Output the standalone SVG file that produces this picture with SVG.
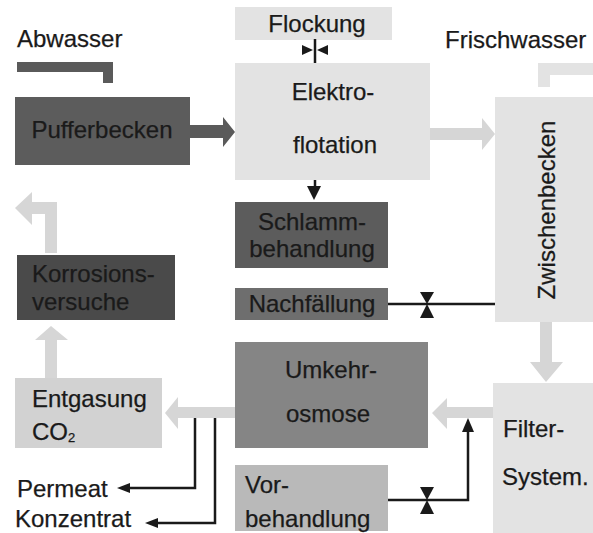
<svg xmlns="http://www.w3.org/2000/svg" width="593" height="533" viewBox="0 0 593 533">
<style>
text{font-family:"Liberation Sans",Arial,sans-serif;font-size:24px;fill:#1a1a1a;stroke:#1a1a1a;stroke-width:0.25}
.c{text-anchor:middle}
.lt{fill:#e3e3e3}
.md{fill:#b9b9b9}
.ent{fill:#d2d2d2}
.dk{fill:#5c5c5c}
.dk2{fill:#4a4a4a}
.nf{fill:#6e6e6e}
.ro{fill:#858585}
.la{fill:#d6d6d6}
.da{fill:#5a5a5a}
.ln{fill:none;stroke:#1a1a1a;stroke-width:2.5}
.v{fill:#1a1a1a}
</style>
<rect width="593" height="533" fill="#ffffff"/>
<g id="labels">
<text x="17" y="47">Abwasser</text>
<text x="445" y="48">Frischwasser</text>
<path class="da" d="M17 62H113V83H103V72H17Z"/>
<path class="lt" d="M538 63H593V75H550V87H538Z"/>
</g>
<g id="flockung"><rect class="lt" x="235" y="7" width="157" height="33"/><text class="c" x="317" y="32">Flockung</text></g>
<g id="elektroflotation"><rect class="lt" x="235" y="63" width="195" height="117"/><text class="c" x="333" y="100">Elektro-</text><text class="c" x="335" y="153">flotation</text></g>
<g id="pufferbecken"><rect class="dk" x="15" y="97" width="175" height="68"/><text class="c" x="102" y="138">Pufferbecken</text></g>
<g id="schlamm"><rect class="dk" x="235" y="202" width="153" height="66"/><text class="c" x="312" y="230">Schlamm-</text><text class="c" x="312" y="257">behandlung</text></g>
<g id="nachfaellung"><rect class="nf" x="235" y="288" width="153" height="32"/><text class="c" x="312" y="312">Nachfällung</text></g>
<g id="umkehrosmose"><rect class="ro" x="235" y="342" width="193" height="106"/><text class="c" x="331" y="378">Umkehr-</text><text class="c" x="328" y="422">osmose</text></g>
<g id="vorbehandlung"><rect class="md" x="235" y="465" width="153" height="66"/><text x="245" y="493">Vor-</text><text x="245" y="527">behandlung</text></g>
<g id="zwischenbecken"><rect class="lt" x="495" y="97" width="98" height="225"/><text class="c" transform="translate(555 210) rotate(-90)">Zwischenbecken</text></g>
<g id="filter"><rect class="lt" x="493" y="383" width="100" height="150"/><text x="503" y="437">Filter-</text><text x="502" y="485">System.</text></g>
<g id="korrosion"><rect class="dk2" x="17" y="255" width="158" height="65"/><text x="32" y="282">Korrosions-</text><text x="32" y="310">versuche</text></g>
<g id="entgasung"><rect class="ent" x="15" y="378" width="147" height="70"/><text x="32" y="407">Entgasung</text><text x="32" y="440">CO<tspan font-size="13" dy="2">2</tspan></text></g>
<g id="outputs"><text x="17" y="497">Permeat</text><text x="15" y="527">Konzentrat</text></g>
<g id="connectors">
<path class="da" d="M190 125H223V117L235 132L223 147V138H190Z"/>
<path class="la" d="M430 128H482V118L495 134L482 150V140H430Z"/>
<path class="la" d="M540 322H552V362H563L546 382L530 362H540Z"/>
<path class="la" d="M493 407H447V398L432 413L447 429V418H493Z"/>
<path class="la" d="M235 407H178V397L165 413L178 429V418H235Z"/>
<path class="la" d="M45 378V340H35L51 326L68 340H57V378Z"/>
<path class="la" d="M45 253V214H32V225L15 208L32 192V202H57V253Z"/>
<path class="ln" d="M315 180V190"/>
<path class="v" d="M307 186H321L314 200Z"/>
<path class="ln" d="M315 39V63"/>
<path class="v" d="M302 45L313 50L302 55Z"/>
<path class="v" d="M328 45L317 50L328 55Z"/>
<path class="ln" d="M388 304H495"/>
<path class="v" d="M420 292H434L427 304Z"/>
<path class="v" d="M420 318H434L427 304Z"/>
<path class="ln" d="M388 500H468V430"/>
<path class="v" d="M462 432L468 418L474 432Z"/>
<path class="v" d="M420 487H434L427 500Z"/>
<path class="v" d="M420 514H434L427 500Z"/>
<path class="ln" d="M195 418V488H128"/>
<path class="v" d="M130 483L117 488L130 493Z"/>
<path class="ln" d="M215 418V523H156"/>
<path class="v" d="M158 518L145 523L158 528Z"/>
</g>
</svg>
